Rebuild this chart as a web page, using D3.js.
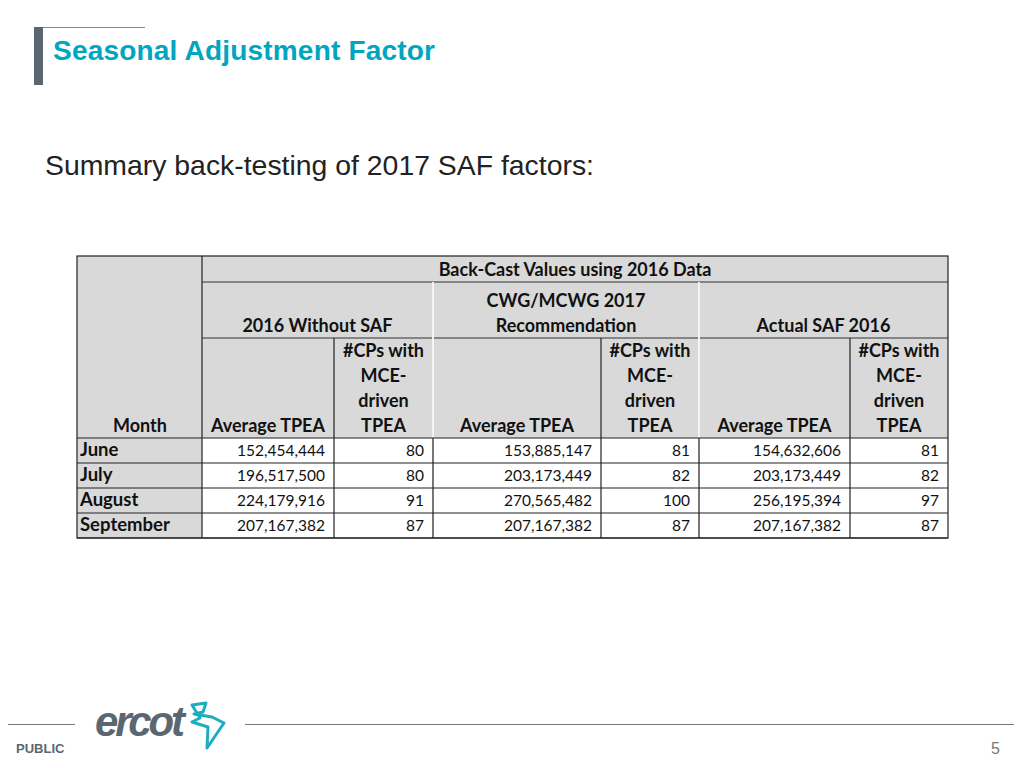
<!DOCTYPE html>
<html><head><meta charset="utf-8">
<script src="https://cdn.jsdelivr.net/npm/d3@7"></script>
<style>body{margin:0;background:#fff;}</style>
</head><body>
<svg id="c" width="1024" height="768"></svg>
<script>
const months = ["June","July","August","September"];
const tpeaNoSaf = [152454444,196517500,224179916,207167382];
const cpsNoSaf = [80,80,91,87];
const tpeaRec = [153885147,203173449,270565482,207167382];
const cpsRec = [81,82,100,87];
const tpeaActual = [154632606,203173449,256195394,207167382];
const cpsActual = [81,82,97,87];

const svg = d3.select("#c");
const font = "Lato, 'Open Sans', sans-serif";
svg.append("rect").attr("x",34).attr("y",27).attr("width",9).attr("height",58).attr("fill","#5b6770");
svg.append("line").attr("x1",43).attr("x2",145).attr("y1",27.5).attr("y2",27.5).attr("stroke","#888").attr("stroke-width",1);
svg.append("text").attr("x",53).attr("y",60).attr("fill","#00a6c0").attr("font-family","Arial, 'Liberation Sans', sans-serif")
  .attr("font-weight","bold").attr("font-size",28).attr("textLength",382).text("Seasonal Adjustment Factor");
svg.append("text").attr("x",45).attr("y",175).attr("fill","#222").attr("font-family","Arial, 'Liberation Sans', sans-serif")
  .attr("font-size",27.5).attr("textLength",549).attr("lengthAdjust","spacingAndGlyphs").text("Summary back-testing of 2017 SAF factors:");

const colEdges = [77,202,334,433,601,699,850,948];
const rowY = d3.scaleLinear().domain([0,1]).range([438,463]);
const headTop = 256;
const gray = "#d9d9d9";
const g = svg.append("g");
g.append("rect").attr("x",77).attr("y",headTop).attr("width",871).attr("height",438-headTop).attr("fill",gray);
g.append("rect").attr("x",77).attr("y",438).attr("width",125).attr("height",rowY(4)-438).attr("fill",gray);

const fmt = d3.format(",");
const cols = [tpeaNoSaf,cpsNoSaf,tpeaRec,cpsRec,tpeaActual,cpsActual];
months.forEach((m,i)=>{
  const y = rowY(i)+18;
  g.append("text").attr("x",80).attr("y",y).attr("font-family",font).attr("font-weight","bold").attr("font-size",18.5).attr("fill","#111").text(m);
  cols.forEach((arr,j)=>{
    g.append("text").attr("x",colEdges[j+2]-9).attr("y",y).attr("text-anchor","end")
      .attr("font-family",font).attr("font-size",15.5).attr("fill","#111").text(fmt(arr[i]));
  });
});
function ht(x,y,t){g.append("text").attr("x",x).attr("y",y).attr("text-anchor","middle").attr("font-family",font)
  .attr("font-weight","bold").attr("font-size",18).attr("fill","#111").text(t);}
ht((202+948)/2,276,"Back-Cast Values using 2016 Data");
ht((202+433)/2,332,"2016 Without SAF");
ht((433+699)/2,307,"CWG/MCWG 2017");ht((433+699)/2,332,"Recommendation");
ht((699+948)/2,332,"Actual SAF 2016");
ht(140,432,"Month");
[0,2,4].forEach(j=>ht((colEdges[j+1]+colEdges[j+2])/2,432,"Average TPEA"));
[1,3,5].forEach(j=>{const cx=(colEdges[j+1]+colEdges[j+2])/2;
  ["#CPs with","MCE-","driven","TPEA"].forEach((t,k)=>ht(cx,357+25*k,t));});

const ln=(x1,y1,x2,y2,c,w)=>g.append("line").attr("x1",x1).attr("y1",y1).attr("x2",x2).attr("y2",y2).attr("stroke",c||"#222").attr("stroke-width",w||1.2);
ln(202,282,948,282,"#333");ln(202,338,948,338,"#333");
ln(202,256,202,rowY(4));
ln(433,282,433,rowY(4),"#f4f4f4",2);ln(699,282,699,rowY(4),"#f4f4f4",2);
[334,601,850].forEach(x=>ln(x,338,x,rowY(4)));
[433,699].forEach(x=>ln(x,438,x,rowY(4)));
for(let i=0;i<=4;i++) ln(77,rowY(i),948,rowY(i));
g.append("rect").attr("x",77).attr("y",256).attr("width",871).attr("height",rowY(4)-256).attr("fill","none").attr("stroke","#222").attr("stroke-width",1.2);

svg.append("line").attr("x1",8).attr("x2",75).attr("y1",724.5).attr("y2",724.5).attr("stroke","#777");
svg.append("line").attr("x1",245).attr("x2",1014).attr("y1",724.5).attr("y2",724.5).attr("stroke","#777");
svg.append("text").attr("x",16).attr("y",753).attr("font-family","Arial, sans-serif").attr("font-weight","bold").attr("font-size",13).attr("fill","#5b6770").text("PUBLIC");
svg.append("text").attr("x",95).attr("y",736).attr("font-family","Arial, sans-serif").attr("font-style","italic").attr("font-weight","bold").attr("font-size",42).attr("fill","#5b6770").attr("textLength",90).text("ercot");
svg.append("path").attr("d","M192,705 L206,703 L203,712 L194,714 L212,717 L224,723 L207,748 L208,727 L192,722 L200,718 Z").attr("fill","none").attr("stroke","#1aaec0").attr("stroke-width",3).attr("stroke-linejoin","round");
svg.append("text").attr("x",1000).attr("y",754).attr("text-anchor","end").attr("font-family","Arial, sans-serif").attr("font-size",16).attr("fill","#777").text("5");
</script>
</body></html>
